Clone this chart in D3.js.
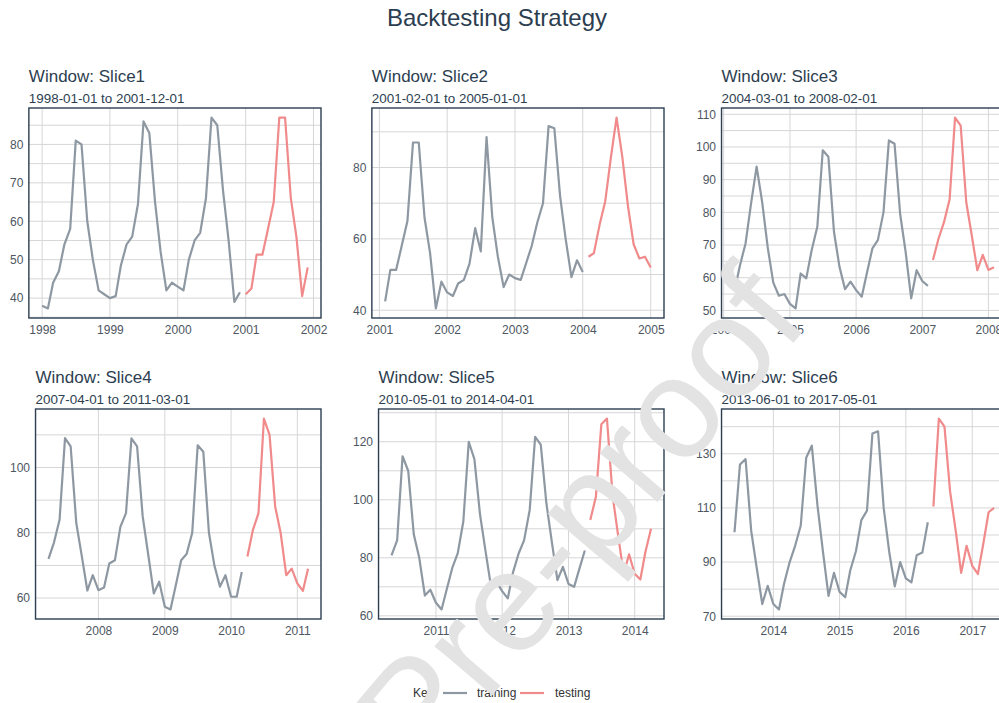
<!DOCTYPE html>
<html><head><meta charset="utf-8">
<script src="https://cdn.jsdelivr.net/npm/d3@7"></script>
<style>
body{margin:0;background:#fff;}
svg{display:block;font-family:"Liberation Sans",Arial,sans-serif;}
</style>
</head><body>
<svg id="chart" width="999" height="703"></svg>
<script>
// ---------------- data ----------------
const chartTitle = "Backtesting Strategy";
const sliceNames = ["Slice1","Slice2","Slice3","Slice4","Slice5","Slice6"];
const sliceStarts = ["1998-01-01","2001-02-01","2004-03-01","2007-04-01","2010-05-01","2013-06-01"];
const sliceEnds   = ["2001-12-01","2005-01-01","2008-02-01","2011-03-01","2014-04-01","2017-05-01"];
const trainLength = 36;   // first 36 months = training, last 12 = testing
const keyLabels = ["training","testing"];

const slice1 = [38, 37.3, 44, 47, 54, 58, 81, 80, 60, 50, 42, 41,
  40, 40.5, 48.5, 54, 56, 64.5, 86, 83, 65, 52, 42, 44,
  43, 42, 50, 55, 57, 66, 87, 85, 68, 55, 39, 41.5,
  41, 42.5, 51.3, 51.3, 58, 65, 87, 87, 66, 56, 40.5, 48];
const slice2 = [42.5, 51.3, 51.3, 58, 65, 87, 87, 66, 56, 40.5, 48,
  45, 44, 47.5, 48.5, 53, 63, 56.5, 88.5, 66, 55, 46.5, 50,
  49, 48.5, 53, 58, 64.5, 70, 91.6, 91, 72, 60, 49.3, 54,
  50.7, 55, 56, 64, 70.5, 83, 94, 83, 69, 58.5, 54.5, 55,
  52];
const slice3 = [56, 64, 70.5, 83, 94, 83, 69, 58.5, 54.5, 55,
  52, 50.6, 61.3, 59.8, 68.5, 75.6, 99, 97, 74, 63.4, 56.5, 58.8,
  56.2, 54.2, 61.3, 69, 71.5, 80, 102, 101, 79.5, 68, 53.7, 62.3,
  59, 57.5, 65.4, 72, 77, 84, 109, 106.5, 83, 73, 62.3, 67,
  62.4, 63.2];
const slice4 = [72, 77, 84, 109, 106.5, 83, 73, 62.3, 67,
  62.4, 63.2, 70.6, 71.6, 81.8, 86, 108.9, 106.5, 85, 73.5, 61.4, 65,
  57.3, 56.5, 63.5, 71.6, 73.5, 80, 106.8, 104.8, 80, 70, 63.5, 67,
  60.4, 60.4, 68, 72.7, 80.8, 86, 115, 110, 88, 80, 67, 69,
  64.5, 62.2, 69];
const slice5 = [80.8, 86, 115, 110, 88, 80, 67, 69,
  64.5, 62.2, 69, 76.5, 81.5, 92.5, 120, 114, 95, 82.5, 70, 71.7,
  68.5, 66, 75, 81.5, 86, 96.5, 121.7, 119, 98.8, 85.5, 72.3, 76.9,
  71, 70, 76, 82.5, 93, 101, 126, 128, 101.5, 88, 74.5, 81.2,
  74.5, 72.5, 82, 90];
const slice6 = [101, 126, 128, 101.5, 88, 74.5, 81.2,
  74.5, 72.5, 82, 90, 96, 103.5, 128.5, 133, 111, 94, 77.5, 86,
  79, 77, 87, 94, 105.5, 109, 137.5, 138.3, 110, 94, 81, 90,
  84, 82.5, 92.5, 93.5, 104.7, 110.5, 143, 140, 116, 102, 86, 96,
  88.6, 85.6, 96, 108.4, 110];
const sliceValues = [slice1, slice2, slice3, slice4, slice5, slice6];

const yTicks = [[40,50,60,70,80],[40,60,80],[50,60,70,80,90,100,110],
                [60,80,100],[60,80,100,120],[70,90,110,130]];

// ---------------- styles / layout ----------------
const C = {
  title:"#2c3e50", text:"#4d5661", border:"#2c3e50", grid:"#d6d6d6",
  train:"#8e98a2", test:"#f08a8b", watermark:"#e3e3e3"
};
const cellW = 343, panelRightOff = 321, rowTops = [108, 409], panelH = 210;

const svg = d3.select("#chart");
const parse = d3.timeParse("%Y-%m-%d");

svg.append("text").attr("x", 497).attr("y", 17)
  .attr("text-anchor","middle").attr("dominant-baseline","central")
  .attr("font-size", 24).attr("fill", C.title).text(chartTitle);

function textWidth(str, size){
  const t = svg.append("text").attr("font-size", size).text(str);
  const w = t.node().getComputedTextLength(); t.remove(); return w;
}

sliceNames.forEach((name, i) => {
  const row = Math.floor(i/3), col = i % 3;
  const cellX = col*cellW;
  const maxW = d3.max(yTicks[i], t => textWidth(String(t), 12));
  const left = cellX + 10 + maxW + 5.5;
  const right = cellX + panelRightOff;
  const top = rowTops[row], bottom = top + panelH;

  const start = parse(sliceStarts[i]);
  const vals = sliceValues[i];
  const data = vals.map((v,k) => ({date: d3.timeMonth.offset(start, k), value: v}));
  const d0 = data[0].date, d1 = data[data.length-1].date;
  const span = d1 - d0;
  const x = d3.scaleTime()
    .domain([new Date(+d0 - 0.05*span), new Date(+d1 + 0.05*span)])
    .range([left, right]);
  const ext = d3.extent(vals), R = ext[1]-ext[0];
  const y = d3.scaleLinear().domain([ext[0]-0.05*R, ext[1]+0.05*R]).range([bottom, top]);

  const g = svg.append("g");
  g.append("text").attr("x", left).attr("y", top-32)
    .attr("dominant-baseline","central").attr("font-size", 17)
    .attr("fill", C.title).text("Window: " + name);
  g.append("text").attr("x", left).attr("y", top-10)
    .attr("dominant-baseline","central").attr("font-size", 13.4)
    .attr("fill", C.title).text(sliceStarts[i] + " to " + sliceEnds[i]);

  const dom = y.domain();
  const step = yTicks[i][1]-yTicks[i][0];
  const minors = d3.range(yTicks[i][0]-step/2, yTicks[i][yTicks[i].length-1]+step, step)
    .filter(v => v > dom[0] && v < dom[1]);
  const xd = x.domain();
  const years = d3.timeYear.range(d3.timeYear.ceil(xd[0]), new Date(+xd[1]+1));

  const gy = g.append("g").call(d3.axisLeft(y).tickValues(yTicks[i]).tickSize(0).tickPadding(0))
    .attr("transform", `translate(${left-5.5},0)`);
  gy.select(".domain").remove();
  gy.selectAll("text").attr("font-size", 12).attr("fill", C.text)
    .attr("font-family","Liberation Sans, Arial, sans-serif");

  const gx = g.append("g").call(d3.axisBottom(x).tickValues(years)
      .tickFormat(d3.timeFormat("%Y")).tickSize(0).tickPadding(0))
    .attr("transform", `translate(0,${bottom+7})`);
  gx.select(".domain").remove();
  gx.selectAll("text").attr("font-size", 12).attr("fill", C.text)
    .attr("font-family","Liberation Sans, Arial, sans-serif");

  const grid = g.append("g").attr("stroke", C.grid).attr("stroke-width", 1);
  grid.selectAll(".hmin").data(minors).join("line")
    .attr("x1", left).attr("x2", right).attr("y1", d=>y(d)).attr("y2", d=>y(d));
  grid.selectAll(".hmaj").data(yTicks[i]).join("line")
    .attr("x1", left).attr("x2", right).attr("y1", d=>y(d)).attr("y2", d=>y(d));
  grid.selectAll(".v").data(years).join("line")
    .attr("x1", d=>x(d)).attr("x2", d=>x(d)).attr("y1", top).attr("y2", bottom);

  const line = d3.line().x(d=>x(d.date)).y(d=>y(d.value));
  g.append("path").datum(data.slice(0, trainLength)).attr("d", line)
    .attr("fill","none").attr("stroke", C.train).attr("stroke-width", 2.2)
    .attr("stroke-linejoin","round");
  g.append("path").datum(data.slice(trainLength)).attr("d", line)
    .attr("fill","none").attr("stroke", C.test).attr("stroke-width", 2.2)
    .attr("stroke-linejoin","round");

  g.append("rect").attr("x", left).attr("y", top)
    .attr("width", right-left).attr("height", bottom-top)
    .attr("fill","none").attr("stroke", C.border).attr("stroke-width", 1.4);
});

// legend
const lg = svg.append("g").attr("font-size", 12).attr("fill", "#333");
lg.append("text").attr("x", 413).attr("y", 693).attr("dominant-baseline","central").text("Key");
const keyColors = [C.train, C.test];
const keyLineX = [443, 520], keyTextX = [477, 555];
keyLabels.forEach((k, j) => {
  lg.append("line").attr("x1", keyLineX[j]).attr("x2", keyLineX[j]+24)
    .attr("y1", 693).attr("y2", 693).attr("stroke", keyColors[j]).attr("stroke-width", 2.2);
  lg.append("text").attr("x", keyTextX[j]).attr("y", 693)
    .attr("dominant-baseline","central").text(k);
});

// watermark
svg.append("text").attr("text-anchor","end")
  .attr("transform","translate(811,322) rotate(-49.5)")
  .attr("font-size", 143).attr("fill", C.watermark)
  .text("Journal Pre-proof");
</script>
</body></html>
